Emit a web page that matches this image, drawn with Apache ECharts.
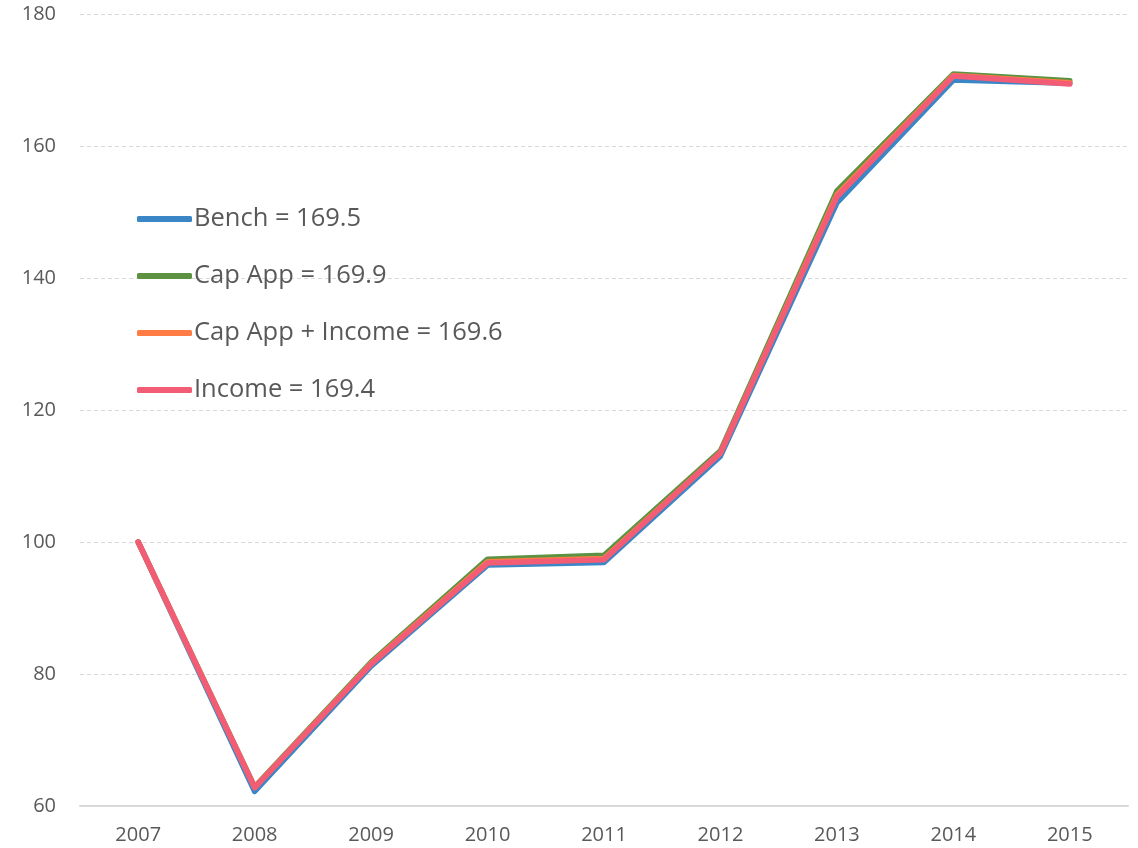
<!DOCTYPE html>
<html>
<head>
<meta charset="utf-8">
<script src="https://cdn.jsdelivr.net/npm/echarts@6/dist/echarts.min.js"></script>
<style>
  html, body { margin: 0; padding: 0; background: #fff; }
  #chart { width: 1138px; height: 848px; }
</style>
</head>
<body>
<div id="chart"></div>
<script>
const years = ['2007', '2008', '2009', '2010', '2011', '2012', '2013', '2014', '2015'];

const bench        = [100, 62.2, 81.2, 96.5, 96.9, 113.0, 151.4, 170.0, 169.5];
const capApp       = [100, 62.9, 81.8, 97.4, 98.0, 113.8, 153.2, 170.9, 169.9];
const capAppIncome = [100, 62.8, 81.6, 97.0, 97.5, 113.5, 152.6, 170.7, 169.6];
const income       = [100, 62.8, 81.5, 96.8, 97.3, 113.5, 152.3, 170.6, 169.4];

const names = ['Bench = 169.5', 'Cap App = 169.9', 'Cap App + Income = 169.6', 'Income = 169.4'];
const colors = ['#3a86c6', '#5c9242', '#ff7d45', '#f25c75'];

const font = '"Open Sans", sans-serif';

const chart = echarts.init(document.getElementById('chart'));

const mkSeries = (name, data, color) => ({
  name: name,
  type: 'line',
  data: data,
  symbol: 'none',
  color: color,
  lineStyle: { width: 5.5, color: color, cap: 'round', join: 'round' },
  animation: false
});

chart.setOption({
  animation: false,
  grid: { left: 80, right: 10, top: 14, bottom: 42 },
  legend: {
    orient: 'vertical',
    left: 137,
    top: 204,
    padding: 0,
    itemWidth: 55,
    itemHeight: 6,
    itemGap: 27,
    icon: 'roundRect',
    textStyle: { fontSize: 25.5, color: '#595959', fontFamily: font, padding: [0, 0, 0, -3], lineHeight: 30 },
    data: names
  },
  xAxis: {
    type: 'category',
    data: years,
    boundaryGap: true,
    axisTick: { show: false },
    axisLine: { lineStyle: { color: '#d9d9d9', width: 2 } },
    axisLabel: { fontSize: 20, color: '#595959', fontFamily: font, margin: 19 }
  },
  yAxis: {
    type: 'value',
    min: 60,
    max: 180,
    interval: 20,
    axisLine: { show: false },
    axisTick: { show: false },
    axisLabel: { fontSize: 20, color: '#595959', fontFamily: font, margin: 24 },
    splitLine: { lineStyle: { color: '#d9d9d9', type: [4, 3], width: 1 } }
  },
  series: [
    mkSeries(names[0], bench, colors[0]),
    mkSeries(names[1], capApp, colors[1]),
    mkSeries(names[2], capAppIncome, colors[2]),
    mkSeries(names[3], income, colors[3])
  ]
});
</script>
</body>
</html>
